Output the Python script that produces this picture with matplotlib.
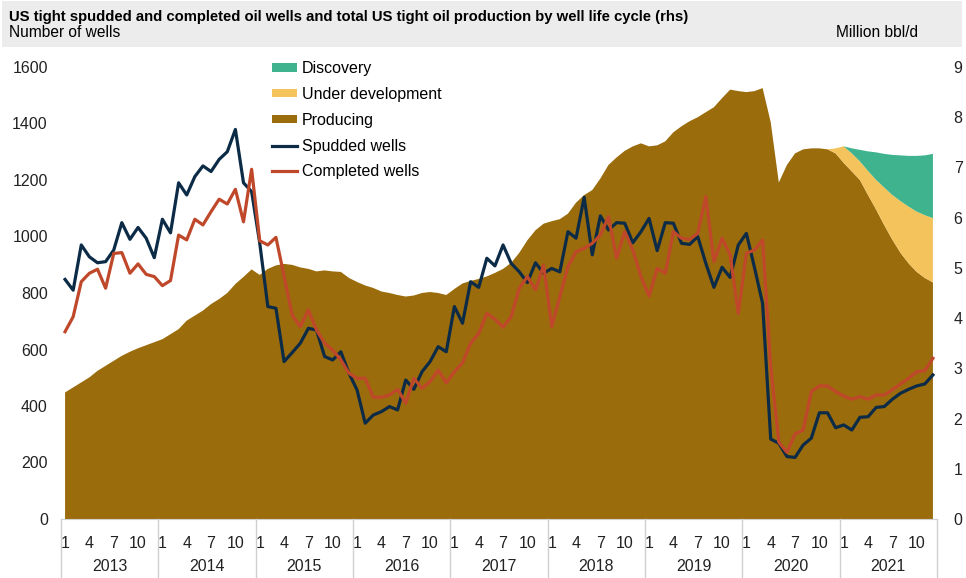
import numpy as np
import matplotlib.pyplot as plt
from matplotlib.patches import Patch, Rectangle
from matplotlib.lines import Line2D

plt.rcParams['font.family'] = ['Liberation Sans', 'DejaVu Sans']

years = ['2013', '2014', '2015', '2016', '2017', '2018', '2019', '2020', '2021']
month_labels = ['1', '4', '7', '10']

# number of wells, monthly Jan 2013 - Dec 2021
spudded = [848, 810, 970, 928, 907, 911, 952, 1049, 990, 1032, 994, 925,
           1061, 1013, 1190, 1147, 1212, 1250, 1230, 1273, 1300, 1379, 1190, 1159,
           977, 752, 746, 557, 589, 622, 675, 669, 575, 563, 592, 516,
           457, 339, 368, 380, 398, 386, 492, 459, 521, 557, 610, 592,
           752, 693, 840, 820, 923, 896, 970, 905, 875, 837, 907, 870,
           887, 875, 1017, 994, 1139, 935, 1073, 1023, 1049, 1047, 978, 1017,
           1064, 950, 1049, 1047, 976, 972, 1000, 905, 820, 891, 855, 970,
           1011, 890, 763, 283, 268, 221, 218, 262, 286, 376, 376, 323,
           333, 315, 360, 362, 395, 398, 424, 445, 459, 471, 478, 510]
completed = [663, 716, 840, 870, 884, 817, 940, 943, 870, 903, 866, 858,
             826, 844, 1005, 988, 1061, 1041, 1088, 1132, 1115, 1167, 1052, 1238,
             985, 970, 997, 860, 722, 681, 740, 669, 622, 598, 563, 516,
             498, 498, 431, 431, 439, 459, 410, 498, 463, 486, 527, 482,
             521, 553, 622, 657, 728, 707, 679, 716, 817, 858, 811, 899,
             681, 787, 893, 946, 958, 976, 1005, 1070, 923, 1017, 952, 858,
             789, 887, 870, 1017, 994, 990, 1011, 1141, 911, 994, 935, 728,
             941, 952, 988, 539, 272, 236, 301, 315, 451, 471, 471, 451,
             435, 424, 433, 424, 439, 439, 457, 478, 498, 521, 525, 569]

# million bbl/d
producing = [2.52, 2.62, 2.72, 2.82, 2.95, 3.05, 3.15, 3.25, 3.33, 3.40, 3.46, 3.52,
             3.58, 3.68, 3.78, 3.95, 4.05, 4.15, 4.28, 4.38, 4.50, 4.68, 4.82, 4.97,
             4.86, 4.98, 5.05, 5.08, 5.06, 5.01, 4.98, 4.93, 4.95, 4.93, 4.92, 4.80,
             4.72, 4.65, 4.60, 4.53, 4.50, 4.46, 4.43, 4.45, 4.50, 4.52, 4.50, 4.46,
             4.58, 4.69, 4.74, 4.78, 4.83, 4.90, 4.98, 5.10, 5.30, 5.55, 5.75, 5.88,
             5.93, 5.97, 6.08, 6.30, 6.45, 6.55, 6.78, 7.05, 7.20, 7.33, 7.42, 7.48,
             7.42, 7.44, 7.52, 7.70, 7.82, 7.92, 8.00, 8.10, 8.20, 8.38, 8.55, 8.52,
             8.50, 8.52, 8.58, 7.90, 6.70, 7.05, 7.28, 7.36, 7.38, 7.38, 7.36, 7.28,
             7.09, 6.92, 6.75, 6.45, 6.16, 5.85, 5.56, 5.30, 5.09, 4.92, 4.80, 4.71]
# Nov 2020 - Dec 2021
under_dev = [0.0, 0.10, 0.33, 0.36, 0.37, 0.48, 0.59, 0.75, 0.89, 1.03, 1.13, 1.20, 1.25, 1.28]
discovery = [0.0, 0.0, 0.0, 0.10, 0.23, 0.39, 0.55, 0.67, 0.80, 0.91, 1.01, 1.11, 1.19, 1.28]

x = np.arange(len(producing))
under_full = np.zeros(len(x))
under_full[-len(under_dev):] = under_dev
disc_full = np.zeros(len(x))
disc_full[-len(discovery):] = discovery

c_prod = '#9b6c0c'
c_dev = '#f5c35c'
c_disc = '#3fb38d'
c_spud = '#0c2b47'
c_comp = '#c0482a'

fig = plt.figure(figsize=(9.66, 5.78), dpi=100)
fig.patches.append(Rectangle((0.002, 0.919), 0.994, 0.079, transform=fig.transFigure,
                             facecolor='#ececec', edgecolor='none', zorder=0))
fig.text(0.009, 0.9700, 'US tight spudded and completed oil wells and total US tight oil production by well life cycle (rhs)',
         fontsize=10.7, fontweight='bold', va='center', ha='left')
fig.text(0.009, 0.9446, 'Number of wells', fontsize=11.2, va='center', ha='left')
fig.text(0.865, 0.9446, 'Million bbl/d', fontsize=11.2, va='center', ha='left')

ax = fig.add_axes([61 / 966, 1 - 519 / 578, 876 / 966, 452 / 578])
ax2 = ax.twinx()
ax.set_zorder(ax2.get_zorder() + 1)
ax.patch.set_visible(False)

ax2.stackplot(x, producing, under_full, disc_full, colors=[c_prod, c_dev, c_disc], lw=0)
ax.plot(x, spudded, color=c_spud, lw=2.3)
ax.plot(x, completed, color=c_comp, lw=2.3)

ax.set_xlim(-0.5, len(x) - 0.5)
ax.set_ylim(0, 1600)
ax2.set_ylim(0, 9)
ax.set_yticks(np.arange(0, 1601, 200))
ax2.set_yticks(np.arange(0, 10, 1))

tick_pos = [m for m in x if m % 3 == 0]
ax.set_xticks(tick_pos)
ax.set_xticklabels([month_labels[(m % 12) // 3] for m in tick_pos])

for a in (ax, ax2):
    for s in ['top', 'left', 'right', 'bottom']:
        a.spines[s].set_visible(False)
ax.spines['bottom'].set_visible(True)
ax.spines['bottom'].set_color('#d0d0d0')
ax.tick_params(axis='x', length=0, labelsize=11.5, pad=12, colors='#222222')
ax.tick_params(axis='y', length=0, labelsize=11.5, pad=9.5, colors='#222222')
ax2.tick_params(axis='y', length=0, labelsize=11.5, pad=12, colors='#222222')

trans = ax.get_xaxis_transform()
for i, yr in enumerate(years):
    ax.text(i * 12 + 5.5, -0.104, yr, transform=trans, ha='center', va='center',
            fontsize=11.5, color='#222222')
for i in range(len(years) + 1):
    ax.add_line(Line2D([i * 12 - 0.5, i * 12 - 0.5], [0, -0.131], transform=trans,
                       color='#d0d0d0', lw=1, clip_on=False))

handles = [Patch(facecolor=c_disc, label='Discovery'),
           Patch(facecolor=c_dev, label='Under development'),
           Patch(facecolor=c_prod, label='Producing'),
           Line2D([], [], color=c_spud, lw=2.3, label='Spudded wells'),
           Line2D([], [], color=c_comp, lw=2.3, label='Completed wells')]
ax.legend(handles=handles, loc='upper left', bbox_to_anchor=(272 / 966, 1 - 61 / 578),
          bbox_transform=fig.transFigure, frameon=False, fontsize=11.5,
          handlelength=1.55, handleheight=0.45, handletextpad=0.3,
          labelspacing=0.68, borderpad=0, borderaxespad=0)

plt.savefig('out.png', dpi=100)
